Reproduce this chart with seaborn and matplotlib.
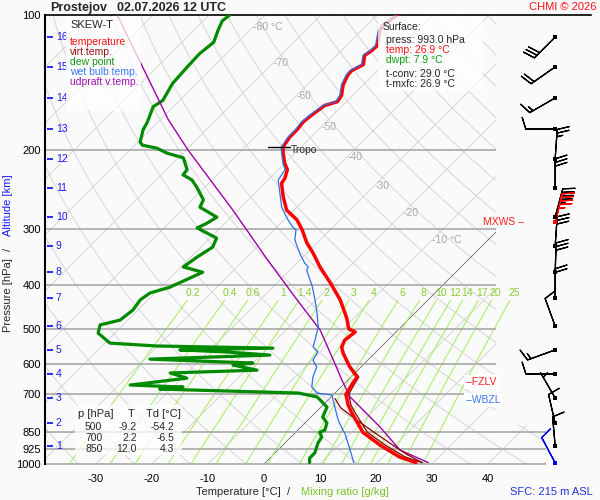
import numpy as np
import matplotlib
matplotlib.use("Agg")
import matplotlib.pyplot as plt
from matplotlib.patches import Polygon, Rectangle
from matplotlib.ticker import NullLocator
import seaborn as sns

# ---- sounding values (pressure hPa / temperature degC) ----
temp_p = [993, 965, 907, 850, 806, 770, 739, 713, 700, 660, 640, 608, 566, 549,
          530, 508, 500, 473, 431, 395, 364, 339, 322, 301, 286, 272, 254, 237,
          231, 221, 214, 203, 197, 187, 180, 173, 167, 159, 156, 151, 143, 136,
          133, 129, 123, 120, 117, 108, 105, 103, 100]
temp_t = [26.9, 23.0, 17.3, 12.0, 9.1, 6.6, 4.5, 3.0, 2.2, 1.4, 1.1, -2.0, -5.7, -7.0,
          -7.7, -7.3, -9.0, -11.3, -15.7, -20.5, -25.2, -28.9, -31.8, -35.0, -37.7, -41.3, -44.3, -47.0,
          -47.3, -48.4, -50.0, -52.1, -53.2, -53.8, -53.8, -54.1, -53.8, -53.2, -51.6, -52.0, -53.6, -54.5,
          -54.6, -53.6, -55.0, -54.6, -54.5, -56.8, -57.1, -56.8, -56.4]

dew_p = [993, 970, 945, 898, 871, 850, 840, 810, 786, 747, 720, 709, 695,
         681, 674, 667, 644, 627, 618, 602, 596, 584, 572, 563, 557, 552, 546,
         538, 511, 490, 478, 454, 431, 416, 404, 374, 364, 346, 329, 314, 298,
         291, 282, 268, 258, 242, 233, 227, 221, 208, 203, 198, 195, 192, 180,
         174, 160, 155, 142, 131, 122, 115, 108, 103, 100]
dew_t = [7.9, 7.1, 7.1, 5.9, 5.5, 4.3, 4.8, 3.9, 2.1, 1.1, -1.4, -2.5, -6.5,
         -32.0, -28.2, -38.0, -29.1, -33.0, -18.0, -23.2, -20.0, -39.1, -18.4, -26.6, -35.4, -19.1, -40.2,
         -49.1, -53.0, -54.1, -51.4, -50.9, -51.4, -50.9, -48.4, -45.2, -49.6, -48.9, -47.9, -48.8, -54.1,
         -53.2, -52.5, -57.3, -58.0, -61.4, -63.6, -66.1, -66.3, -69.1, -72.9, -75.5, -78.6, -79.6, -81.3,
         -81.8, -83.6, -83.0, -84.3, -84.6, -84.8, -84.3, -85.7, -86.6, -86.3]

wb_p = [993, 931, 853, 840, 798, 747, 702, 695, 674, 640, 608, 587, 563, 549,
        530, 495, 461, 431, 404, 370, 364, 357, 339, 317, 301, 297, 286, 268,
        233, 221, 214, 203, 197, 187, 180, 173, 167, 159, 156, 151, 143, 136,
        133, 129, 123, 120, 117, 108, 105, 103, 100]
wb_t = [15.8, 12.9, 8.9, 8.0, 5.4, 2.5, -0.2, -3.2, -5.2, -6.8, -7.9, -9.8, -10.4, -12.1,
        -13.0, -14.8, -17.5, -20.2, -22.9, -27.0, -27.3, -28.6, -31.3, -34.5, -36.1, -37.1, -39.3, -42.7,
        -48.2, -48.8, -50.3, -52.4, -53.5, -54.1, -54.1, -54.4, -54.1, -53.5, -51.9, -52.3, -53.9, -54.8,
        -54.9, -53.9, -55.3, -54.9, -54.8, -57.1, -57.4, -57.1, -56.7]

virt_p = [993, 965, 907, 850, 806, 770, 739, 713, 700, 660, 640, 608]
virt_t = [28.0, 24.0, 18.2, 12.8, 9.8, 7.2, 5.0, 3.5, 2.7, 1.8, 1.4, -1.8]

parcel_p = [993, 950, 900, 850, 800, 750, 715]
parcel_t = [28.0, 23.6, 18.9, 14.0, 8.9, 3.7, 1.0]

updraft_p = [993, 931, 827, 709, 650, 608, 503, 431, 350, 272, 200, 171, 100]
updraft_t = [29.1, 21.8, 14.1, 3.4, -1.1, -4.4, -13.9, -23.4, -36.0, -50.9, -69.6, -78.6, -106.4]

tropo_p, tropo_t = 197, -53.2

# altitude scale (km -> hPa) and winds at those levels (deg from, knots)
alt_km = [1, 2, 3, 4, 5, 6, 7, 8, 9, 10, 11, 12, 13, 14, 15, 16]
alt_p = [912, 811, 713, 630, 557, 493, 427, 374, 327, 282, 243, 209, 179.5, 153, 130.5, 112]
wind_dir = [355, 347, 330, 270, 250, 340, 0, 2, 4, 15, 0, 4, 270, 240, 235, 225]
wind_spd = [10, 10, 5, 10, 15, 10, 20, 30, 30, 45, 30, 25, 10, 15, 20, 30]
sfc_p, sfc_dir, sfc_spd = 993, 332, 10
mxws_p, mxws_dir, mxws_spd = 289, 13, 45

iso_lab_t = [-80, -70, -60, -50, -40, -30, -20, -10]
iso_lab_p = [106.4, 127.9, 151.5, 177.6, 207, 240, 276, 317]
mix_w = [0.2, 0.4, 0.6, 1, 1.4, 2, 3, 4, 6, 8, 10, 12, 14, 17, 20, 25]
mix_lab = ["0.2", "0.4", "0.6", "1", "1.4", "2", "3", "4", "6", "8", "10", "12", "14", "17", "20", "25"]
p_levels = [100, 200, 300, 400, 500, 600, 700, 850, 925, 1000]
t_ticks = [-30, -20, -10, 0, 10, 20, 30, 40]

table_p = ["500", "700", "850"]
table_t = ["-9.2", "2.2", "12.0"]
table_td = ["-54.2", "-6.5", "4.3"]

# ---- diagram geometry ----
SKEW = 80.2                  # degC shift per pressure decade -> 45 deg isotherms
XL, XR = -39.1, 58.4
XG, XG_LOW = 41.4, 50.4      # right end of the grid (upper / lower part)
X_WIND = 52.0


def skew(t, p):
    return np.asarray(t, float) + SKEW * np.log10(1000.0 / np.asarray(p, float))


def sat_dewpoint(w, p):
    e = w * p / (622.0 + w)
    a = np.log(e / 6.112)
    return 243.5 * a / (17.67 - a)


def fpos(x, y):
    return x / 600, 1 - y / 500


sns.set_theme(style="white")
plt.rcParams["font.family"] = ["Liberation Sans", "DejaVu Sans"]

BG = "#fafafa"
fig = plt.figure(figsize=(6, 5), dpi=100, facecolor=BG)
rect = [45 / 600, 36 / 500, 546 / 600, 449 / 500]
ax = fig.add_axes(rect, facecolor=BG)
ax.set_yscale("log")
ax.set_ylim(1000, 100)
ax.set_xlim(XL, XR)

clip = Polygon([(XL, 1000), (XG_LOW, 1000), (XG_LOW, 820), (XG, 820), (XG, 100), (XL, 100)],
               closed=True, transform=ax.transData)

pp = np.logspace(3, 2, 120)
# isotherms
for t0 in range(-130, 60, 10):
    if t0 == 0:
        continue
    ln, = ax.plot(skew(np.full_like(pp, t0), pp), pp, color="#d6d6d6", lw=0.7, zorder=1)
    ln.set_clip_path(clip)
ln, = ax.plot(skew(np.zeros_like(pp), pp), pp, color="#6e6e6e", lw=0.6, zorder=1.2)
ln.set_clip_path(clip)
# dry adiabats
for th in range(220, 480, 10):
    ln, = ax.plot(skew(th * (pp / 1000) ** 0.286 - 273.15, pp), pp, color="#d6d6d6", lw=0.7, zorder=1)
    ln.set_clip_path(clip)
# mixing ratio lines
pm = np.logspace(3, np.log10(432), 40)
for w, lab in zip(mix_w, mix_lab):
    ax.plot(skew(sat_dewpoint(w, pm), pm), pm, color="#a6ee66", lw=0.75, zorder=1.5)
    ax.text(skew(sat_dewpoint(w, 416), 416), 416, lab, color="#8ccc33", fontsize=7.5,
            ha="center", va="center", zorder=1.6)

for t0, p0 in zip(iso_lab_t, iso_lab_p):
    lab = f"{t0} °C" if t0 in (-80, -10) else f"{t0}"
    ax.text(skew(t0, p0), p0, lab, color="#a8a8a8", fontsize=7.5, ha="left", va="center", zorder=1.6)

for p in p_levels[1:]:
    ax.plot([XL, XG_LOW if p >= 850 else XG], [p, p], color="#a8a8a8", lw=1.2,
            zorder=2, clip_on=False, solid_capstyle="butt")

# ---- profiles ----
def profile(t, p, color, lw, z):
    sns.lineplot(x=skew(t, p), y=np.asarray(p, float), sort=False, estimator=None,
                 color=color, linewidth=lw, ax=ax, zorder=z)

profile(dew_t, dew_p, "#008a00", 2.3, 3)
profile(updraft_t, updraft_p, "#a000a8", 1.0, 3.2)
profile(parcel_t, parcel_p, "#8b0000", 0.9, 3.3)
profile(virt_t, virt_p, "#8b0000", 0.9, 3.4)
profile(temp_t, temp_p, "#ff0000", 2.5, 3.5)
profile(wb_t, wb_p, "#2f6fe8", 0.9, 3.6)

xt = skew(tropo_t, tropo_p)
ax.plot([xt - 2.7, xt + 1.25], [tropo_p, tropo_p], color="black", lw=1.0, zorder=4)
ax.text(xt + 1.5, tropo_p * 1.012, "Tropo", fontsize=7.5, ha="left", va="center", zorder=4)

# altitude scale
for km, p in zip(alt_km, alt_p):
    ax.plot([XL + 0.35, XL + 1.45], [p, p], color="#1a1aff", lw=1.3, zorder=4,
            solid_capstyle="butt")
    ax.text(XL + 1.95, p, str(km), color="#1a1aff", fontsize=7.5, ha="left", va="center", zorder=4)

# ---- winds: barbs on a linear overlay in log10(p) units ----
axw = fig.add_axes(rect, frameon=False)
axw.set_xlim(XL, XR)
axw.set_ylim(3, 2)
axw.set_xticks([])
axw.set_yticks([])
axw.patch.set_alpha(0)


def uv(d, s):
    d = np.radians(np.asarray(d, float))
    s = np.asarray(s, float)
    return -s * np.sin(d), -s * np.cos(d)


def wind(p, d, s, color, z):
    y = np.log10(np.asarray(p, float))
    x = np.full(len(y), X_WIND)
    u, v = uv(d, s)
    # staff length in points is about length**2 / 2
    axw.barbs(x, y, u, v, length=6.5, linewidth=0.9, color=color, zorder=z)
    axw.scatter(x, y, marker="s", s=7, color=color, zorder=z + 1, linewidths=0)


wind(alt_p, wind_dir, wind_spd, "black", 5)
wind([mxws_p], [mxws_dir], [mxws_spd], "red", 5.5)
wind([sfc_p], [sfc_dir], [sfc_spd], "#0000ee", 5)

# ---- axes cosmetics ----
for side in ("bottom", "right"):
    ax.spines[side].set_visible(False)
ax.spines["left"].set_color("black")
ax.spines["left"].set_linewidth(1.5)
ax.spines["top"].set_color("black")
ax.spines["top"].set_linewidth(1.2)
ax.yaxis.set_minor_locator(NullLocator())
ax.set_yticks(p_levels)
ax.set_yticklabels([str(p) for p in p_levels])
ax.set_xticks(t_ticks)
ax.set_xticklabels([str(t) for t in t_ticks])
ax.tick_params(axis="both", length=0, labelsize=8, colors="black")
ax.tick_params(axis="x", pad=7)
ax.tick_params(axis="y", pad=3)
ax.set_xlabel("")
ax.set_ylabel("")

# ---- boxes and annotations ----
def box(x0, y0, x1, y1):
    fig.add_artist(Rectangle(fpos(x0, y1), (x1 - x0) / 600, (y1 - y0) / 500,
                             transform=fig.transFigure, facecolor="white", edgecolor="none",
                             alpha=0.75, zorder=5))


def ftext(x, y, s, **kw):
    kw.setdefault("fontsize", 7.5)
    kw.setdefault("va", "center")
    fig.text(*fpos(x, y), s, zorder=6, **kw)


box(66, 16, 141, 111)
ftext(70, 25, "SKEW-T", fontsize=8)
for i, (lab, col) in enumerate([("temperature", "#ff1010"), ("virt.temp.", "#a01010"),
                                ("dew point", "#109a10"), ("wet bulb temp.", "#3a78f0"),
                                ("udpraft v.temp.", "#a010b0")]):
    ftext(70, 42 + 10 * i, lab, color=col)

box(378, 16, 483, 91)
ftext(383, 27, "Surface:")
ftext(386, 40, "press: 993.0 hPa")
ftext(386, 50, "temp: 26.9 °C", color="#ff1010")
ftext(386, 60, "dwpt: 7.9 °C", color="#109a10")
ftext(386, 74, "t-conv: 29.0 °C")
ftext(386, 84, "t-mxfc: 26.9 °C")

box(75, 405, 182, 455)
ftext(78, 414, "p [hPa]", fontsize=8)
ftext(128, 414, "T", fontsize=8)
ftext(146, 414, "Td [°C]", fontsize=8)
for i in range(3):
    y = 427 + 11 * i
    ftext(85, y, table_p[i])
    ftext(137, y, table_t[i], ha="right")
    ftext(174, y, table_td[i], ha="right")

ftext(483, 222, "MXWS –", color="#ff2020", ha="left")
ftext(466, 382, "–FZLV", color="#ff2020", ha="left",
      bbox=dict(facecolor="white", edgecolor="none", pad=1.5))
ftext(466, 400, "–WBZL", color="#3a78f0", ha="left",
      bbox=dict(facecolor="white", edgecolor="none", pad=1.5))

ftext(50, 8, "Prostejov", fontsize=9, fontweight="bold")
ftext(117, 8, "02.07.2026 12 UTC", fontsize=9, fontweight="bold")
ftext(563, 7, "CHMI © 2026", color="#ff1010", fontsize=8, ha="center")

ftext(238, 492, "Temperature [°C]", fontsize=8, ha="center")
ftext(289, 492, "/", fontsize=8, ha="center")
ftext(345, 492, "Mixing ratio [g/kg]", fontsize=8, ha="center", color="#7cc42a")
ftext(551, 492, "SFC: 215 m ASL", fontsize=8, ha="center", color="#2233dd")

ftext(8, 295, "Pressure [hPa]", fontsize=8, ha="center", rotation=90)
ftext(8, 249, "/", fontsize=8, ha="center", rotation=90)
ftext(8, 205, "Altitude [km]", fontsize=8, ha="center", rotation=90, color="#1a1aff")

fig.savefig("out.png", dpi=100, facecolor=BG)
